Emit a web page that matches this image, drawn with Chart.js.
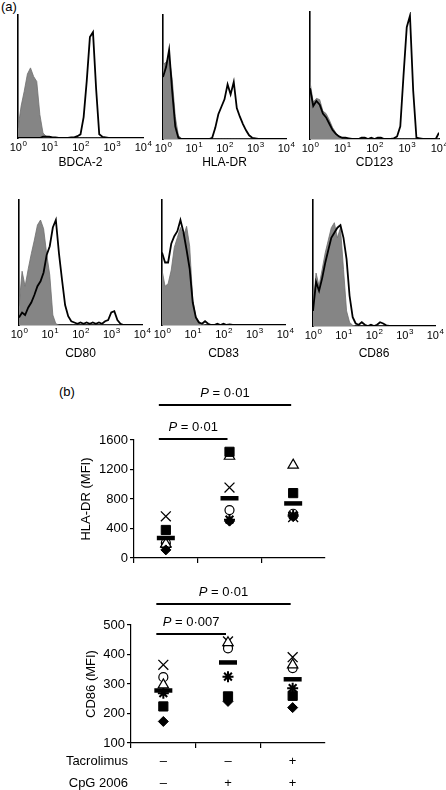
<!DOCTYPE html>
<html>
<head>
<meta charset="utf-8">
<script src="https://cdn.jsdelivr.net/npm/chart.js@4/dist/chart.umd.min.js"></script>
<style>
  body { margin: 0; background: #fff; width: 446px; height: 790px; overflow: hidden; position: relative;
         font-family: "Liberation Sans", Arial, Helvetica, sans-serif; }
  canvas { position: absolute; left: 0; top: 0; }
  .panel { position: absolute; font-size: 13px; color: #000; }
</style>
</head>
<body>
<div class="panel" style="left:1px;top:-1px">(a)</div>
<div class="panel" style="left:59px;top:384px">(b)</div>
<canvas id="h1" width="446" height="790"></canvas>
<canvas id="h2" width="446" height="790"></canvas>
<canvas id="h3" width="446" height="790"></canvas>
<canvas id="h4" width="446" height="790"></canvas>
<canvas id="h5" width="446" height="790"></canvas>
<canvas id="h6" width="446" height="790"></canvas>
<canvas id="dotHla" width="446" height="790"></canvas>
<canvas id="dotCd86" width="446" height="790"></canvas>
<script>
const FONT = '"Liberation Sans", Arial, Helvetica, sans-serif';
Chart.defaults.font.family = FONT;
Chart.defaults.color = '#000';

// ---- (a) flow histograms: fluorescence channels, 10 per decade ----
const channels = [1, 1.26, 1.58, 2, 2.51, 3.16, 3.98, 5.01, 6.31, 7.94,
  10, 12.6, 15.8, 20, 25.1, 31.6, 39.8, 50.1, 63.1, 79.4,
  100, 126, 158, 200, 251, 316, 398, 501, 631, 794,
  1000, 1259, 1585, 1995, 2512, 3162, 3981, 5012, 6310, 7943, 10000];
const decadeTicks = [1, 10, 100, 1000, 10000];
const decadeExponents = ['0', '1', '2', '3', '4'];

// % of max events, isotype control (grey) and marker stain (black)
const bdcaIso = [8, 26, 38, 52, 57, 50, 46, 19, 4, 1.5, 1, 0.5, 0, 0, 0, 0, 0, 0, 0, 0,
  0, 0, 0, 0, 0, 0, 0, 0, 0, 0, 0, 0, 0, 0, 0, 0, 0, 0, 0, 0, 0];
const bdcaStain = [0, 0, 0, 0, 0, 0, 0, 0, 1, 1, 1, 0.5, 0.5, 0, 0, 0, 0, 0.5, 0.5, 1.5,
  3, 17, 46, 82, 86, 40, 3, 1, 0.5, 0, 0, 0, 0, 0, 0, 0, 0, 0, 0, 0, 0];
const hlaIso = [60, 62, 66, 48, 18, 3, 0.5, 0, 0, 0, 0, 0, 0, 0, 0, 0, 0, 0, 0, 0,
  0, 0, 0, 0, 0, 0, 0, 0, 0, 0, 0, 0, 0, 0, 0, 0, 0, 0, 0, 0, 0];
const hlaStain = [50, 58, 72, 38, 10, 1, 0, 0, 0, 0, 0, 0, 0, 0, 0, 0, 1, 9, 20, 26,
  32, 44, 36, 46, 25, 18, 12, 7, 3, 1, 0.5, 0, 0, 0, 0, 0, 0, 0, 0, 0, 0];
const cd123Iso = [45, 29, 32, 31, 22, 20, 15, 9, 5, 2, 1, 0.5, 0, 0, 0, 0, 0, 0, 0, 0,
  0, 0, 0, 0, 0, 0, 0, 0, 0, 0, 0, 0, 0, 0, 0, 0, 0, 0, 0, 0, 0];
const cd123Stain = [40, 26, 30, 27, 20, 17, 12, 7, 4, 2, 1, 1, 0.5, 0, 0, 0, 1, 1, 0, 1,
  0, 1, 1, 0, 0, 0, 0.5, 2, 10, 50, 88, 97, 38, 1, 0.5, 0, 0, 0, 0, 0, 5];
const cd80Iso = [15, 43, 31, 45, 57, 68, 80, 84, 77, 57, 40, 8, 1, 0, 0, 0, 0, 0, 0, 0,
  0, 0, 0, 0, 0, 0, 0, 0, 0, 0, 0, 0, 0, 0, 0, 0, 0, 0, 0, 0, 0];
const cd80Stain = [6, 10, 8, 14, 18, 24, 31, 35, 42, 56, 63, 78, 84, 57, 36, 16, 7, 3, 2, 1,
  2, 1, 2, 1, 2, 1, 2, 1, 3, 4, 10, 11, 4, 1, 0, 0, 0, 0, 0, 0, 0];
const cd83Iso = [44, 31, 33, 44, 62, 70, 78, 71, 79, 63, 20, 7, 3, 1, 0, 0, 0, 0, 0, 0,
  0, 0, 0, 0, 0, 0, 0, 0, 0, 0, 0, 0, 0, 0, 0, 0, 0, 0, 0, 0, 0];
const cd83Stain = [58, 50, 50, 65, 71, 75, 84, 74, 60, 45, 18, 6, 2, 1, 3, 1, 0, 0, 1, 0,
  1, 0, 0.5, 0, 0, 0, 0, 0, 0, 0, 0, 0, 0, 0, 0, 0, 0, 0, 0, 0, 0];
const cd86Iso = [15, 42, 32, 45, 58, 68, 78, 82, 70, 78, 45, 12, 3, 0.5, 0, 0, 0, 0, 0, 0,
  0, 0, 0, 0, 0, 0, 0, 0, 0, 0, 0, 0, 0, 0, 0, 0, 0, 0, 0, 0, 0];
const cd86Stain = [12, 35, 28, 38, 50, 60, 70, 74, 78, 80, 70, 53, 24, 7, 2, 1, 3, 1, 0, 1,
  0, 1, 3, 2, 0.5, 0, 0, 0, 0, 0, 0, 0, 0, 0, 0, 0, 0, 0, 0, 0, 0];

// ---- (b) MFI per donor: [medium, CpG 2006, CpG 2006 + tacrolimus] ----
const groups = ['medium', 'CpG', 'CpG+Tac'];
const treatmentNames = ['Tacrolimus', 'CpG 2006'];
const tacrolimusRow = ['–', '–', '+'];
const cpgRow = ['–', '+', '+'];

const hlaDiamond = [110, 500, 560];
const hlaSquare = [380, 1440, 880];
const hlaTriangle = [190, 1380, 1260];
const hlaCross = [565, 955, 555];
const hlaStar = [150, 520, 580];
const hlaCircle = [205, 650, 600];
const hlaMean = [271, 810, 740];
const hlaPairs = [[0, 1], [0, 2]];
const hlaP = ['0·01', '0·01'];

const cd86Diamond = [173, 241, 220];
const cd86Square = [224, 258, 260];
const cd86Triangle = [297, 440, 365];
const cd86Cross = [365, 444, 391];
const cd86Star = [269, 325, 286];
const cd86Circle = [323, 421, 354];
const cd86Mean = [278, 373, 316];
const cd86Pairs = [[0, 1], [0, 2]];
const cd86P = ['0·007', '0·01'];

// one marker style per donor
const donorStyles = [
  { pointStyle: 'rectRot', pointRadius: 5, pointBackgroundColor: '#000', pointBorderColor: '#000', pointBorderWidth: 1 },
  { pointStyle: 'rect', pointRadius: 6.5, pointBackgroundColor: '#000', pointBorderColor: '#000', pointBorderWidth: 1 },
  { pointStyle: 'triangle', pointRadius: 6, pointBackgroundColor: '#fff', pointBorderColor: '#000', pointBorderWidth: 1.2 },
  { pointStyle: 'crossRot', pointRadius: 7, pointBorderColor: '#000', pointBorderWidth: 1.3 },
  { pointStyle: 'star', pointRadius: 5.5, pointBorderColor: '#000', pointBorderWidth: 2 },
  { pointStyle: 'circle', pointRadius: 4.5, pointBackgroundColor: '#fff', pointBorderColor: '#000', pointBorderWidth: 1.2 }
];

// "10" with a raised exponent under each decade
const powerLabels = {
  id: 'powerLabels',
  afterDraw(chart) {
    const ctx = chart.ctx, xs = chart.scales.x;
    ctx.save();
    ctx.fillStyle = '#000';
    ctx.textBaseline = 'middle';
    ctx.textAlign = 'left';
    decadeTicks.forEach((v, i) => {
      ctx.font = '11px ' + FONT;
      const wBase = ctx.measureText('10').width;
      ctx.font = '8px ' + FONT;
      const wExp = ctx.measureText(decadeExponents[i]).width;
      const x = xs.getPixelForValue(v) - (wBase + wExp) / 2;
      const y = xs.top + 10;
      ctx.font = '11px ' + FONT;
      ctx.fillText('10', x, y);
      ctx.font = '8px ' + FONT;
      ctx.fillText(decadeExponents[i], x + wBase + 0.5, y - 4);
    });
    ctx.restore();
  }
};

function histogram(id, name, iso, stain, box) {
  // box: chart area left, top, right, bottom and height of the x axis block
  const [L, T, R, B, axisH] = box;
  return new Chart(document.getElementById(id), {
    type: 'line',
    data: {
      datasets: [
        { data: channels.map((c, i) => ({ x: c, y: stain[i] })), borderColor: '#000', borderWidth: 1.8,
          pointRadius: 0, fill: false, tension: 0 },
        { data: channels.map((c, i) => ({ x: c, y: iso[i] })), borderColor: '#6e6e6e', borderWidth: 0.8,
          backgroundColor: '#858585', fill: 'origin', pointRadius: 0, tension: 0 }
      ]
    },
    options: {
      responsive: false, animation: false, events: [],
      layout: { autoPadding: false, padding: { left: L, top: T, right: 446 - R, bottom: 790 - B - axisH } },
      plugins: { legend: { display: false }, tooltip: { enabled: false } },
      scales: {
        x: {
          type: 'logarithmic', min: 1, max: 10000,
          afterBuildTicks: s => { s.ticks = decadeTicks.map(v => ({ value: v })); },
          afterFit: s => { s.height = axisH; s.paddingLeft = 0; s.paddingRight = 0; },
          grid: { display: false, drawTicks: false },
          border: { color: '#000', width: 1.3 },
          ticks: { display: false },
          title: { display: true, text: name, font: { size: 12 }, padding: { top: 0, bottom: 1 } }
        },
        y: {
          min: 0, max: 100,
          afterFit: s => { s.width = 0; s.paddingTop = 0; s.paddingBottom = 0; },
          ticks: { display: false },
          grid: { display: false, drawTicks: false },
          border: { color: '#000', width: 1.6 }
        }
      }
    },
    plugins: [powerLabels]
  });
}

histogram('h1', 'BDCA-2', bdcaIso, bdcaStain, [18, 15, 143, 138, 33]);
histogram('h2', 'HLA-DR', hlaIso, hlaStain, [163, 15, 286, 139, 32]);
histogram('h3', 'CD123', cd123Iso, cd123Stain, [310, 12, 439, 139, 32]);
histogram('h4', 'CD80', cd80Iso, cd80Stain, [19, 200, 142, 325, 37]);
histogram('h5', 'CD83', cd83Iso, cd83Stain, [162, 200, 285, 325, 37]);
histogram('h6', 'CD86', cd86Iso, cd86Stain, [313, 200, 435, 326, 36]);

// P value bars above the dot plots
function brackets(pairs, pValues, lineY) {
  return {
    id: 'brackets',
    afterDraw(chart) {
      const ctx = chart.ctx, xs = chart.scales.x;
      ctx.save();
      pairs.forEach((p, k) => {
        const x0 = xs.getPixelForValue(p[0]) - 7;
        const x1 = xs.getPixelForValue(p[1]) - 2;
        const y = lineY[k];
        ctx.strokeStyle = '#000';
        ctx.lineWidth = 2;
        ctx.beginPath(); ctx.moveTo(x0, y); ctx.lineTo(x1, y); ctx.stroke();
        const rest = ' = ' + pValues[k];
        ctx.font = 'italic 13px ' + FONT;
        const wP = ctx.measureText('P').width;
        ctx.font = '13px ' + FONT;
        const wR = ctx.measureText(rest).width;
        const tx = (x0 + x1) / 2 - (wP + wR) / 2;
        ctx.fillStyle = '#000';
        ctx.textBaseline = 'middle';
        ctx.textAlign = 'left';
        ctx.font = 'italic 13px ' + FONT;
        ctx.fillText('P', tx, y - 12);
        ctx.font = '13px ' + FONT;
        ctx.fillText(rest, tx + wP, y - 12);
      });
      ctx.restore();
    }
  };
}

// row names left of the +/- table
const rowNames = {
  id: 'rowNames',
  afterDraw(chart) {
    const ctx = chart.ctx, xs = chart.scales.x;
    ctx.save();
    ctx.font = '13px ' + FONT;
    ctx.fillStyle = '#000';
    ctx.textAlign = 'right';
    ctx.textBaseline = 'middle';
    treatmentNames.forEach((t, k) => ctx.fillText(t, 128, xs.top + 5 + 2 + 11 + k * 22));
    ctx.restore();
  }
};

function dotPlot(id, title, donors, means, yRange, box, plugins, showTable) {
  const [L, T, R, B, yW, xH] = box;
  const datasets = [{ data: means, showLine: false, pointStyle: 'line', pointRadius: 9,
                      pointBorderWidth: 4.5, pointBorderColor: '#000' }];
  donors.forEach((vals, k) => datasets.push(Object.assign({ data: vals, showLine: false }, donorStyles[k])));
  return new Chart(document.getElementById(id), {
    type: 'line',
    data: { labels: groups, datasets: datasets },
    options: {
      responsive: false, animation: false, events: [], clip: false,
      layout: { autoPadding: false, padding: { left: L - yW, top: T, right: 446 - R, bottom: 790 - B - xH } },
      plugins: { legend: { display: false }, tooltip: { enabled: false } },
      scales: {
        x: {
          type: 'category', offset: true,
          afterFit: s => { s.height = xH; s.paddingLeft = 0; s.paddingRight = 0; },
          grid: { offset: true, drawOnChartArea: false, tickLength: 5, lineWidth: 1.2,
                  color: c => (c.index < 3 ? '#000' : 'rgba(0,0,0,0)') },
          border: { color: '#000', width: 1.2 },
          ticks: { display: showTable, padding: 2, maxRotation: 0, autoSkip: false,
                   font: { size: 13, lineHeight: 22 / 13 },
                   callback: (v, i) => [tacrolimusRow[i], cpgRow[i]] }
        },
        y: {
          min: yRange[0], max: yRange[1],
          afterFit: s => { s.width = yW; s.paddingTop = 0; s.paddingBottom = 0; },
          grid: { drawOnChartArea: false, tickLength: 4, color: '#000', lineWidth: 1.2 },
          border: { color: '#000', width: 1.2 },
          ticks: { stepSize: yRange[2], padding: 2, font: { size: 13 }, callback: v => String(v) },
          title: { display: true, text: title, font: { size: 13 } }
        }
      }
    },
    plugins: plugins
  });
}

dotPlot('dotHla', 'HLA-DR (MFI)',
  [hlaDiamond, hlaSquare, hlaTriangle, hlaCross, hlaStar, hlaCircle], hlaMean,
  [0, 1600, 400], [134, 440, 325, 558, 59, 12],
  [brackets(hlaPairs, hlaP, [439, 405])], false);

dotPlot('dotCd86', 'CD86 (MFI)',
  [cd86Diamond, cd86Square, cd86Triangle, cd86Cross, cd86Star, cd86Circle], cd86Mean,
  [100, 500, 100], [131, 625, 325, 743, 51, 47],
  [brackets(cd86Pairs, cd86P, [634, 604]), rowNames], true);
</script>
</body>
</html>
